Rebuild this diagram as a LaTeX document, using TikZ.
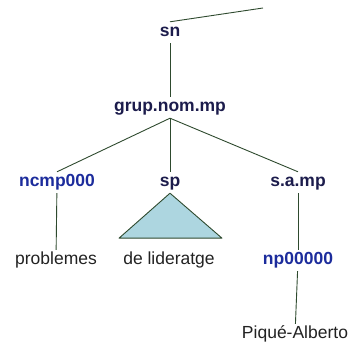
\documentclass[tikz,border=0pt]{standalone}
\usepackage{fontspec}
\setmainfont{Liberation Sans}
\usepackage{xcolor}
\definecolor{catnavy}{HTML}{1C1C4C}
\definecolor{tagblue}{HTML}{1C2C9C}
\definecolor{branchgreen}{HTML}{2E4A2E}
\definecolor{trifill}{HTML}{ADD6E0}
\definecolor{wordgray}{HTML}{222222}

\tikzset{
  label/.style={anchor=base, inner xsep=1pt, inner ysep=2pt,
    text height=13pt, text depth=4pt, font=\fontsize{17.5}{20}\selectfont},
  cat/.style={label, text=catnavy, font=\fontsize{17.5}{20}\selectfont\bfseries},
  postag/.style={label, text=tagblue, font=\fontsize{17.5}{20}\selectfont\bfseries},
  word/.style={label, text=wordgray},
  branch/.style={draw=branchgreen, line width=0.9pt}
}

\begin{document}
\begin{tikzpicture}[x=1pt, y=-1pt]
  \useasboundingbox (0,0) rectangle (359,347);

  % categories
  \node[cat] (sn) at (170,37) {sn};
  \node[cat] (grup) at (170,112) {grup.nom.mp};
  \node[postag] (ncmp) at (57,187) {ncmp000};
  \node[cat] (sp) at (170,187) {sp};
  \node[cat] (samp) at (298,187) {s.a.mp};
  \node[postag] (np) at (298,265) {np00000};

  % words
  \node[word] (problemes) at (56,265) {problemes};
  \node[word] (lideratge) at (169,265) {de lideratge};
  \node[word] (pique) at (295,339) {Piqué-Alberto};

  \coordinate (root) at (263,8);

  % branches
  \draw[branch] (sn.north) -- (root);
  \draw[branch] (sn) -- (grup);
  \draw[branch] (grup.south) -- (ncmp.north);
  \draw[branch] (grup.south) -- (sp.north);
  \draw[branch] (grup.south) -- (samp.north);
  \draw[branch] (ncmp) -- (problemes);
  \draw[branch] (samp) -- (np);
  \draw[branch] (np) -- (pique);
  \draw[branch, fill=trifill, line join=round] (sp.south) -- ++(-51,45) -- ++(103,0) -- cycle;
\end{tikzpicture}
\end{document}
